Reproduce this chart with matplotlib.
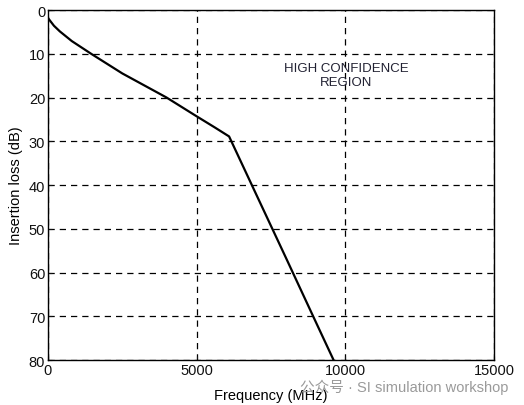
import matplotlib
matplotlib.use("Agg")
import matplotlib.pyplot as plt

# insertion loss curve
freq_mhz = [30, 200, 400, 800, 1450, 2500, 3986, 5000, 5600, 6091, 7000, 8000, 9000, 9605]
loss_db = [2.1, 3.6, 4.9, 7.1, 10.0, 14.5, 20.0, 24.3, 26.8, 28.9, 42.1, 56.6, 71.2, 80.0]

xticks = [0, 5000, 10000, 15000]
yticks = [0, 10, 20, 30, 40, 50, 60, 70, 80]

plt.rcParams['font.family'] = ['Liberation Sans', 'Noto Sans CJK SC', 'DejaVu Sans']

fig = plt.figure(figsize=(5.24, 4.06), dpi=100)
ax = fig.add_axes([0.0916, 0.1108, 0.8511, 0.8621])

ax.plot(freq_mhz, loss_db, color='black', lw=1.6)

ax.set_xlim(0, 15000)
ax.set_ylim(80, 0)
ax.set_xticks(xticks)
ax.set_yticks(yticks)
ax.tick_params(direction='in', length=3, labelsize=10.5, pad=2, colors='#111111')
ax.grid(True, color='black', linestyle=(0, (5, 4)), lw=0.9)
for s in ax.spines.values():
    s.set_linewidth(1.0)

ax.set_xlabel('Frequency (MHz)', fontsize=10.5, labelpad=8)
ax.set_ylabel('Insertion loss (dB)', fontsize=10.5, labelpad=4)

ax.text(10030, 14.8, 'HIGH CONFIDENCE\nREGION', ha='center', va='center',
        fontsize=9.5, linespacing=1.25, color='#222233')

fig.text(0.97, 0.045, '公众号 · SI simulation workshop', ha='right', va='center',
         fontsize=10.5, color='#9a9a9a')

plt.savefig('out.png', dpi=100)
